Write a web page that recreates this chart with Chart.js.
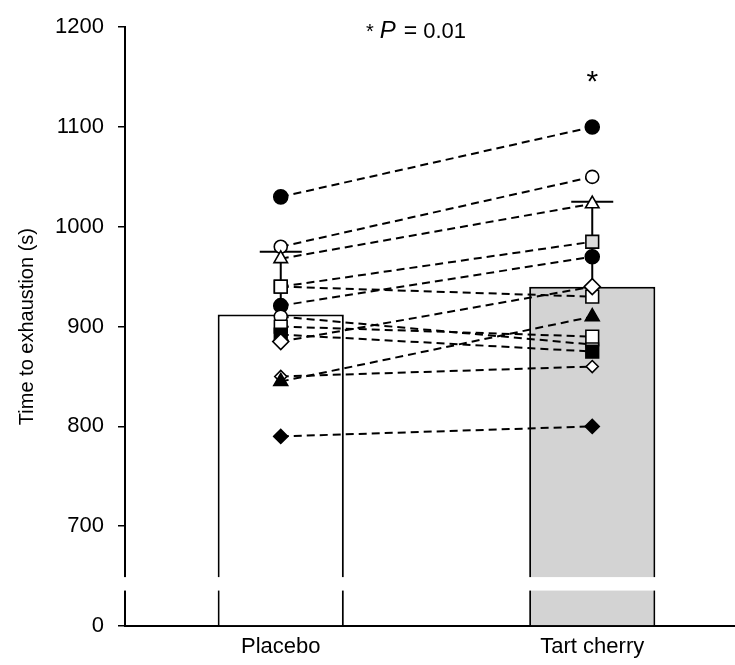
<!DOCTYPE html>
<html>
<head>
<meta charset="utf-8">
<script src="https://cdn.jsdelivr.net/npm/chart.js@4.4.1/dist/chart.umd.min.js"></script>
<style>
  html, body { margin: 0; padding: 0; background: #fff; overflow: hidden; }
  #wrap { width: 735px; height: 665px; overflow: hidden; position: relative; }
</style>
</head>
<body>
<div id="wrap"><canvas id="c" width="760" height="665" style="width:760px;height:665px"></canvas></div>
<script>
// ---------- data ----------
const CATEGORIES = ['Placebo', 'Tart cherry'];
const BAR_MEANS = [912, 940];
const BAR_SD = [63, 85];
const Y_TICKS = [0, 700, 800, 900, 1000, 1100, 1200];
// individual participants (placebo, tart cherry)
const PLACEBO     = [1030, 980, 968, 940, 940, 921, 910, 900, 892, 885, 850, 845, 790];
const TART_CHERRY = [1100, 1050, 1023, 985, 930, 970, 882, 890, 875, 940, 860, 910, 800];
const P_TEXT = ['*', 'P', '=', '0.01'];
const SIG_MARK = '*';

// ---------- styles ----------
const MARKERS = [
  { style: 'circle',   r: 7,   fill: ['#000', '#000'] },
  { style: 'circle',   r: 6.5, fill: ['#fff', '#fff'] },
  { style: 'triangle', r: 7.8, fill: ['#fff', '#fff'] },
  { style: 'rect',     r: 9,   fill: ['#fff', '#dcdcdc'] },
  { style: 'rect',     r: 9,   fill: ['#fff', '#fff'] },
  { style: 'circle',   r: 7,   fill: ['#000', '#000'] },
  { style: 'circle',   r: 6.5, fill: ['#fff', '#fff'] },
  { style: 'rect',     r: 9,   fill: ['#fff', '#fff'] },
  { style: 'rect',     r: 9,   fill: ['#000', '#000'] },
  { style: 'rectRot',  r: 8,   fill: ['#fff', '#fff'] },
  { style: 'rectRot',  r: 6,   fill: ['#fff', '#fff'] },
  { style: 'triangle', r: 8,   fill: ['#000', '#000'] },
  { style: 'rectRot',  r: 7,   fill: ['#000', '#000'] }
];
const FONT = "'Liberation Sans', Arial, Helvetica, sans-serif";

// ---------- broken linear scale ----------
const BREAK_LOW = 35, BREAK_HIGH = 650, V0 = 600, VSPAN = 600;
function virt(v) {
  if (v >= BREAK_HIGH) return v;
  if (v <= BREAK_LOW) return V0 + v;
  return V0 + BREAK_LOW + (v - BREAK_LOW) * ((BREAK_HIGH - V0 - BREAK_LOW) / (BREAK_HIGH - BREAK_LOW));
}
function unvirt(t) {
  if (t >= BREAK_HIGH) return t;
  if (t <= V0 + BREAK_LOW) return t - V0;
  return BREAK_LOW + (t - V0 - BREAK_LOW) * ((BREAK_HIGH - BREAK_LOW) / (BREAK_HIGH - V0 - BREAK_LOW));
}
class BrokenLinearScale extends Chart.LinearScale {
  buildTicks() { return Y_TICKS.map(v => ({ value: v })); }
  getPixelForValue(v) { return this.getPixelForDecimal((virt(v) - V0) / VSPAN); }
  getValueForPixel(p) { return unvirt(V0 + this.getDecimalForPixel(p) * VSPAN); }
}
BrokenLinearScale.id = 'brokenLinear';
BrokenLinearScale.defaults = Chart.LinearScale.defaults;
Chart.register(BrokenLinearScale);

// ---------- plugins ----------
const errorBars = {
  id: 'errorBars',
  afterDatasetDraw(chart, args) {
    if (args.index !== 0) return;
    const { ctx } = chart;
    const x = chart.scales.x, y = chart.scales.y;
    ctx.save();
    ctx.strokeStyle = '#000';
    ctx.lineWidth = 2;
    BAR_MEANS.forEach((m, i) => {
      const cx = x.getPixelForValue(i);
      const y0 = y.getPixelForValue(m);
      const y1 = y.getPixelForValue(m + BAR_SD[i]);
      ctx.beginPath();
      ctx.moveTo(cx, y0); ctx.lineTo(cx, y1);
      ctx.moveTo(cx - 21, y1); ctx.lineTo(cx + 21, y1);
      ctx.stroke();
    });
    ctx.restore();
  }
};

const axisBreak = {
  id: 'axisBreak',
  afterDraw(chart) {
    const { ctx, chartArea } = chart;
    const y = chart.scales.y;
    const top = y.getPixelForValue(BREAK_HIGH) + 1;
    const bot = y.getPixelForValue(BREAK_LOW) - 0.5;
    ctx.save();
    ctx.fillStyle = '#fff';
    ctx.fillRect(chartArea.left - 4, top, chartArea.right - chartArea.left + 10, bot - top);
    ctx.restore();
  }
};

const annotations = {
  id: 'annotations',
  afterDraw(chart) {
    const { ctx } = chart;
    const x = chart.scales.x, y = chart.scales.y;
    ctx.save();
    ctx.fillStyle = '#000';
    ctx.textBaseline = 'alphabetic';
    // "* P = 0.01"
    const parts = [
      { t: P_TEXT[0], f: `20px ${FONT}`, gap: 6 },
      { t: P_TEXT[1], f: `italic 24px ${FONT}`, gap: 8 },
      { t: P_TEXT[2], f: `23px ${FONT}`, gap: 6 },
      { t: P_TEXT[3], f: `22px ${FONT}`, gap: 0 }
    ];
    let total = 0;
    parts.forEach(p => { ctx.font = p.f; p.w = ctx.measureText(p.t).width; total += p.w + p.gap; });
    let cx = 416 - total / 2;
    parts.forEach(p => { ctx.font = p.f; ctx.fillText(p.t, cx, 38); cx += p.w + p.gap; });
    // significance asterisk above tart cherry
    ctx.font = `30px ${FONT}`;
    ctx.textAlign = 'center';
    ctx.fillText(SIG_MARK, x.getPixelForValue(1), y.getPixelForValue(1136));
    ctx.restore();
  }
};

// ---------- datasets ----------
const datasets = [{
  type: 'bar',
  data: BAR_MEANS,
  backgroundColor: ['#ffffff', '#d3d3d3'],
  borderColor: '#000',
  borderWidth: 2,
  borderSkipped: 'bottom',
  categoryPercentage: 1,
  barPercentage: 0.405,
  order: 100
}];
PLACEBO.forEach((p, i) => {
  const m = MARKERS[i];
  datasets.push({
    type: 'line',
    data: [p, TART_CHERRY[i]],
    borderColor: '#000',
    borderWidth: 2,
    borderDash: [8, 5],
    fill: false,
    tension: 0,
    pointStyle: m.style,
    pointRadius: m.r,
    pointBackgroundColor: m.fill,
    pointBorderColor: '#000',
    pointBorderWidth: 1.6,
    order: PLACEBO.length - i
  });
});

new Chart(document.getElementById('c'), {
  data: { labels: CATEGORIES, datasets },
  options: {
    responsive: false,
    animation: false,
    devicePixelRatio: 1,
    layout: { padding: { top: 24, right: 12, bottom: 0, left: 0 } },
    plugins: { legend: { display: false }, tooltip: { enabled: false } },
    scales: {
      x: {
        type: 'category',
        offset: true,
        afterFit(s) { s.height = 39; },
        grid: { display: false, drawTicks: false, tickLength: 0 },
        border: { display: true, color: '#000', width: 2 },
        ticks: { color: '#000', font: { size: 22, family: FONT }, padding: 8, maxRotation: 0 }
      },
      y: {
        type: 'brokenLinear',
        min: 0, max: 1200,
        afterFit(s) { s.width = 125; },
        border: { display: true, color: '#000', width: 2 },
        grid: { display: true, drawOnChartArea: false, drawTicks: true, tickLength: 7, color: '#000', lineWidth: 1.5 },
        ticks: { color: '#000', font: { size: 22, family: FONT }, padding: 14, callback: v => String(v) },
        title: { display: true, text: 'Time to exhaustion (s)', color: '#000', font: { size: 20, family: FONT }, padding: { top: 15, bottom: 0 } }
      }
    }
  },
  plugins: [errorBars, axisBreak, annotations]
});
</script>
</body>
</html>
